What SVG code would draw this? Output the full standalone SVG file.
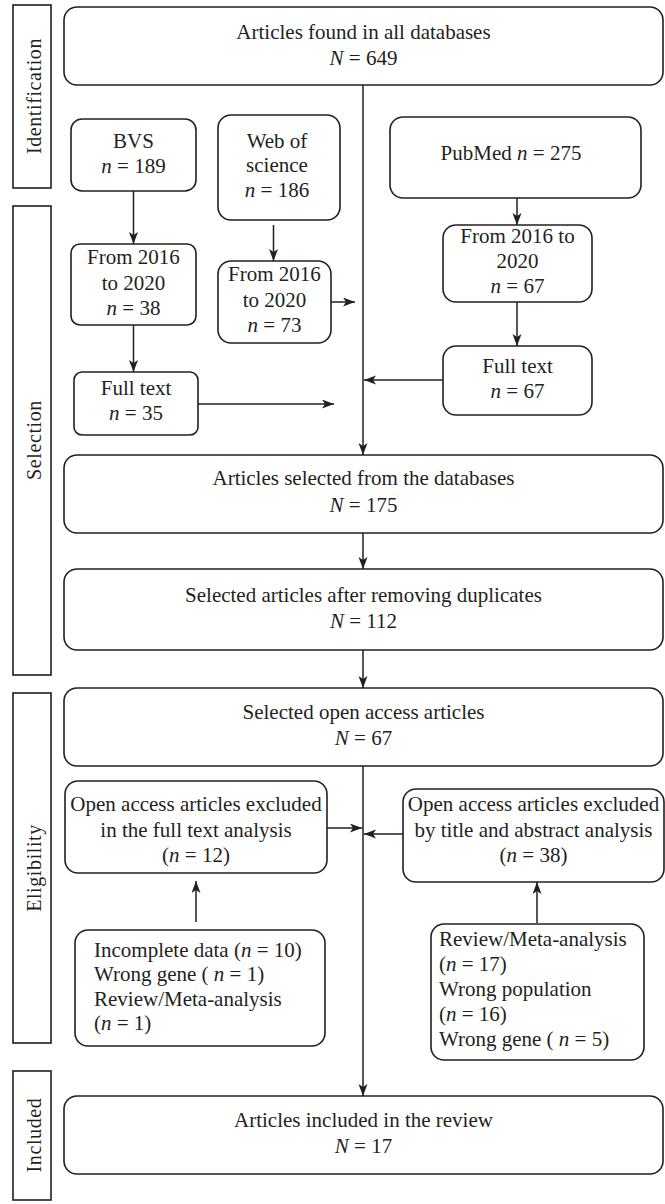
<svg xmlns="http://www.w3.org/2000/svg" width="665" height="1204" viewBox="0 0 665 1204">
<style>
.bg{fill:#ffffff}
.box{fill:#ffffff;stroke:#231f20;stroke-width:1.6}
.stage{fill:#ffffff;stroke:#231f20;stroke-width:1.6}
text{font-family:"Liberation Serif","Times New Roman",serif;font-size:21px;fill:#231f20}
.c{text-anchor:middle}
.st{font-size:20px;text-anchor:middle;letter-spacing:0.6px}
.i{font-style:italic}
.ln{fill:none;stroke:#231f20;stroke-width:1.5}
</style>
<defs>
<marker id="ah" markerUnits="userSpaceOnUse" markerWidth="13" markerHeight="10" refX="12" refY="4.5" orient="auto">
<path d="M0,0 L12,4.5 L0,9 L3,4.5 z" fill="#231f20"/>
</marker>
</defs>
<rect class="bg" x="0" y="0" width="665" height="1204"/>

<g id="stage-identification"><rect class="stage" x="13" y="5" width="38" height="183"/><text class="st" transform="translate(41,96) rotate(-90)">Identification</text></g>
<g id="stage-selection"><rect class="stage" x="13" y="206" width="38" height="469"/><text class="st" transform="translate(41,440) rotate(-90)">Selection</text></g>
<g id="stage-eligibility"><rect class="stage" x="13" y="693" width="38" height="350"/><text class="st" transform="translate(41,868) rotate(-90)">Eligibility</text></g>
<g id="stage-included"><rect class="stage" x="13" y="1071" width="38" height="129"/><text class="st" transform="translate(41,1135) rotate(-90)">Included</text></g>

<g id="connectors">
<path class="ln" d="M363,85 V455" marker-end="url(#ah)"/>
<path class="ln" d="M363,533 V569" marker-end="url(#ah)"/>
<path class="ln" d="M363,650 V688" marker-end="url(#ah)"/>
<path class="ln" d="M363,766 V1096" marker-end="url(#ah)"/>
<path class="ln" d="M133.5,191 V244" marker-end="url(#ah)"/>
<path class="ln" d="M133.5,325 V372" marker-end="url(#ah)"/>
<path class="ln" d="M198,404 H334" marker-end="url(#ah)"/>
<path class="ln" d="M273.5,225 V261" marker-end="url(#ah)"/>
<path class="ln" d="M331,302 H355" marker-end="url(#ah)"/>
<path class="ln" d="M517,198 V225" marker-end="url(#ah)"/>
<path class="ln" d="M517,302 V346" marker-end="url(#ah)"/>
<path class="ln" d="M443,380 H364" marker-end="url(#ah)"/>
<path class="ln" d="M327,828 H362" marker-end="url(#ah)"/>
<path class="ln" d="M403,834 H364" marker-end="url(#ah)"/>
<path class="ln" d="M196,922 V881" marker-end="url(#ah)"/>
<path class="ln" d="M537,923 V882" marker-end="url(#ah)"/>
</g>

<g id="all-databases"><rect class="box" x="64" y="7" width="599" height="78" rx="13"/><text class="c" x="363.5" y="39">Articles found in all databases</text><text class="c" x="363.5" y="65"><tspan class="i">N</tspan> = 649</text></g>

<g id="bvs"><rect class="box" x="71" y="119" width="125" height="72" rx="11"/><text class="c" x="133.5" y="148">BVS</text><text class="c" x="133.5" y="173"><tspan class="i">n</tspan> = 189</text></g>
<g id="wos"><rect class="box" x="218" y="115" width="122" height="105" rx="13"/><text class="c" x="277" y="148">Web of</text><text class="c" x="277" y="172">science</text><text class="c" x="277" y="197"><tspan class="i">n</tspan> = 186</text></g>
<g id="pubmed"><rect class="box" x="390" y="117" width="251" height="81" rx="13"/><text class="c" x="511" y="160">PubMed <tspan class="i">n</tspan> = 275</text></g>

<g id="bvs-years"><rect class="box" x="71" y="244" width="125" height="81" rx="9"/><text class="c" x="133.5" y="264">From 2016</text><text class="c" x="133.5" y="290">to 2020</text><text class="c" x="133.5" y="315"><tspan class="i">n</tspan> = 38</text></g>
<g id="wos-years"><rect class="box" x="218" y="261" width="113" height="82" rx="13"/><text class="c" x="274.5" y="281">From 2016</text><text class="c" x="274.5" y="307">to 2020</text><text class="c" x="274.5" y="332"><tspan class="i">n</tspan> = 73</text></g>
<g id="pubmed-years"><rect class="box" x="443" y="225" width="149" height="77" rx="13"/><text class="c" x="517.5" y="243">From 2016 to</text><text class="c" x="517.5" y="268">2020</text><text class="c" x="517.5" y="293"><tspan class="i">n</tspan> = 67</text></g>

<g id="bvs-full"><rect class="box" x="74" y="372" width="124" height="63" rx="8"/><text class="c" x="136" y="395">Full text</text><text class="c" x="136" y="420"><tspan class="i">n</tspan> = 35</text></g>
<g id="pubmed-full"><rect class="box" x="443" y="346" width="149" height="69" rx="13"/><text class="c" x="517.5" y="373">Full text</text><text class="c" x="517.5" y="398"><tspan class="i">n</tspan> = 67</text></g>

<g id="selected-db"><rect class="box" x="64" y="455" width="599" height="78" rx="13"/><text class="c" x="363.5" y="485">Articles selected from the databases</text><text class="c" x="363.5" y="512"><tspan class="i">N</tspan> = 175</text></g>
<g id="no-duplicates"><rect class="box" x="64" y="569" width="599" height="81" rx="13"/><text class="c" x="363.5" y="602">Selected articles after removing duplicates</text><text class="c" x="363.5" y="628"><tspan class="i">N</tspan> = 112</text></g>
<g id="open-access"><rect class="box" x="64" y="688" width="599" height="78" rx="13"/><text class="c" x="363.5" y="719">Selected open access articles</text><text class="c" x="363.5" y="745"><tspan class="i">N</tspan> = 67</text></g>

<g id="excluded-full-text"><rect class="box" x="65" y="781" width="262" height="92" rx="13"/><text class="c" x="196" y="811">Open access articles excluded</text><text class="c" x="196" y="837">in the full text analysis</text><text class="c" x="196" y="862">(<tspan class="i">n</tspan> = 12)</text></g>
<g id="excluded-title"><rect class="box" x="403" y="789" width="261" height="93" rx="13"/><text class="c" x="533.5" y="811">Open access articles excluded</text><text class="c" x="533.5" y="837">by title and abstract analysis</text><text class="c" x="533.5" y="862">(<tspan class="i">n</tspan> = 38)</text></g>

<g id="reasons-full-text"><rect class="box" x="75" y="930" width="250" height="116" rx="13"/><text x="94" y="957">Incomplete data (<tspan class="i">n</tspan> = 10)</text><text x="94" y="981">Wrong gene ( <tspan class="i">n</tspan> = 1)</text><text x="94" y="1006">Review/Meta-analysis</text><text x="94" y="1030">(<tspan class="i">n</tspan> = 1)</text></g>
<g id="reasons-title"><rect class="box" x="431" y="924" width="213" height="136" rx="13"/><text x="439" y="946">Review/Meta-analysis</text><text x="439" y="971">(<tspan class="i">n</tspan> = 17)</text><text x="439" y="996">Wrong population</text><text x="439" y="1021">(<tspan class="i">n</tspan> = 16)</text><text x="439" y="1046">Wrong gene ( <tspan class="i">n</tspan> = 5)</text></g>

<g id="included"><rect class="box" x="64" y="1096" width="599" height="78" rx="13"/><text class="c" x="363.5" y="1127">Articles included in the review</text><text class="c" x="363.5" y="1153"><tspan class="i">N</tspan> = 17</text></g>
</svg>
